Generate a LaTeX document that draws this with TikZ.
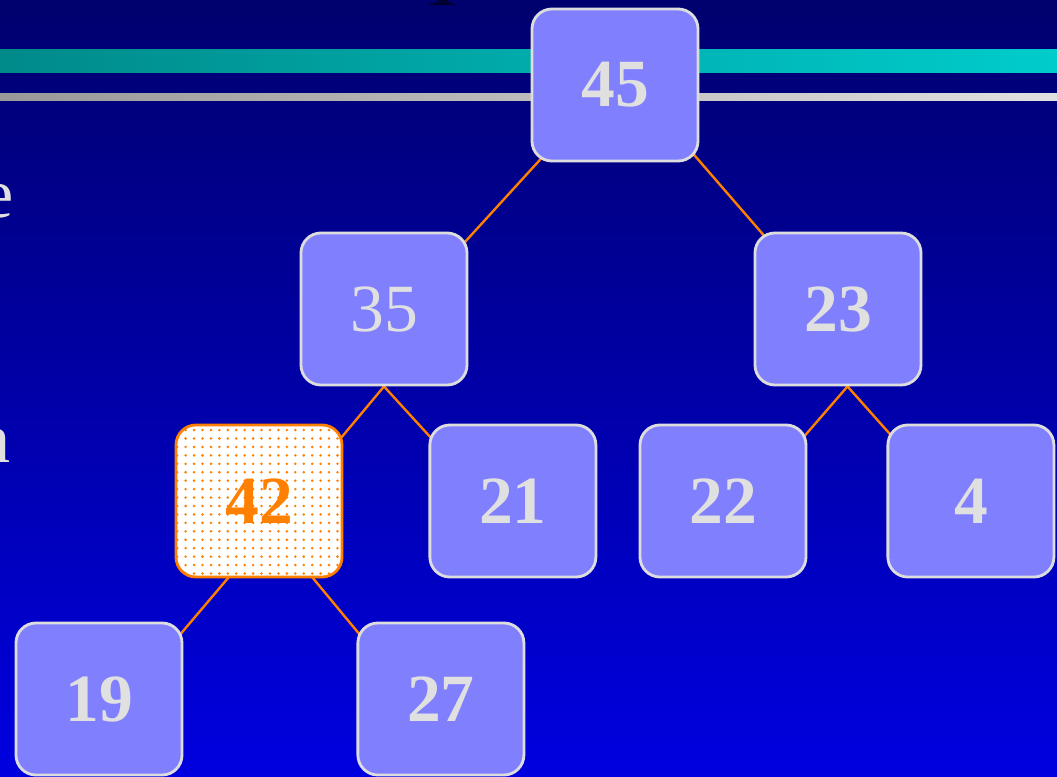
\documentclass[tikz,border=0pt]{standalone}
\usepackage{fontspec}
\setmainfont{Liberation Serif}
\usepackage{tikz}
\usetikzlibrary{positioning,backgrounds,patterns.meta}

\definecolor{boxfill}{HTML}{8080FF}
\definecolor{boxline}{HTML}{DDDDDD}
\definecolor{numtext}{HTML}{E0E0E0}
\definecolor{hot}{HTML}{FF8000}
\definecolor{bgtop}{HTML}{00006E}
\definecolor{bgmid}{HTML}{0000B0}
\definecolor{bgbot}{HTML}{0000E0}
\definecolor{tealL}{HTML}{008A8A}
\definecolor{tealR}{HTML}{00CCCC}
\definecolor{greyL}{HTML}{999999}
\definecolor{greyR}{HTML}{E0E0E0}
\definecolor{mound}{HTML}{000030}

\begin{document}
\begin{tikzpicture}[x=0.025cm, y=-0.025cm, main/.style={rectangle, rounded corners=0.5cm, draw=boxline, fill=boxfill, line width=2pt, minimum width=4.15cm, minimum height=3.8cm, inner sep=0pt, text=numtext, font=\fontsize{48}{50}\selectfont\bfseries}, plain/.style={font=\fontsize{48}{50}\selectfont}, marked/.style={draw=hot, text=hot, preaction={fill=white}, pattern={Dots[distance=6pt, radius=1pt]}, pattern color=hot}, every edge/.append style={draw=hot, line width=1.7pt, shorten <=-12pt, shorten >=-12pt}]

\useasboundingbox (0,0) rectangle (1057,776);
\clip (0,0) rectangle (1057,776);

\node[main] (v45) at (615,85) {45};
\node[main, plain] (v35) at (384,309) {35};
\node[main] (v23) at (838,309) {23};
\node[main, marked] (v42) at (259,501) {42};
\node[main] (v21) [right=2.125cm of v42] {21};
\node[main] (v22) at (723,501) {22};
\node[main] (v4) [right=1.975cm of v22] {4};
\node[main] (v19) at (99,699) {19};
\node[main] (v27) [right=4.325cm of v19] {27};

% text cut off at the left edge
\node[anchor=base east, text=numtext, font=\fontsize{50}{52}\selectfont] (cute) at (19,217) {e};
\node[anchor=base east, text=numtext, font=\fontsize{50}{52}\selectfont] (cutn) at (16,462) {n};

\begin{scope}[on background layer]
\shade[top color=bgtop, middle color=bgmid, bottom color=bgbot] (0,0) rectangle (1057,776);
\shade[left color=tealL, right color=tealR] (0,49) rectangle (1057,72);
\shade[left color=greyL, right color=greyR] (0,93) rectangle (1057,100);
\fill[mound] (428,5) -- (437,2) -- (439,0) -- (447,0) -- (449,2) -- (456,5) -- cycle;

\path
    (v45.225) edge (v35.40)
    (v45.-42) edge (v23.135)
    (v35.south) edge (v42.38)
    (v35.south) edge (v21.142)
    (v23.-83) edge (v22.39)
    (v23.-83) edge (v4.140)
    (v42.248) edge (v19.39)
    (v42.-55) edge (v27.141);
\end{scope}
\end{tikzpicture}
\end{document}
